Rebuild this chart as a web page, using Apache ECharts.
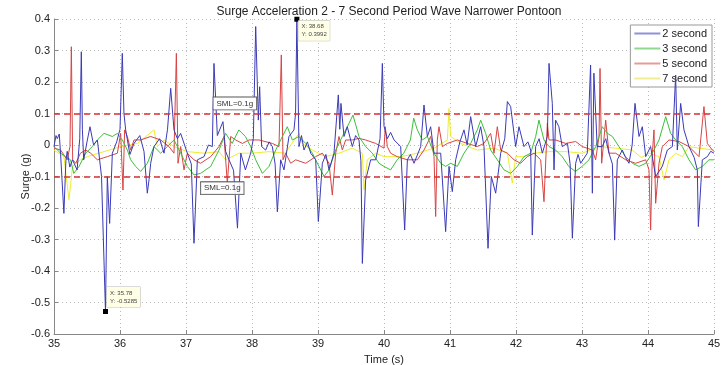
<!DOCTYPE html>
<html>
<head>
<meta charset="utf-8">
<script src="https://cdn.jsdelivr.net/npm/echarts@6/dist/echarts.min.js"></script>
<style>html,body{margin:0;padding:0;background:#fff}#c{width:728px;height:365px}</style>
</head>
<body>
<div id="c"></div>
<script>
var seriesNames = ['2 second', '3 second', '5 second', '7 second'];
var xTicks = [35, 36, 37, 38, 39, 40, 41, 42, 43, 44, 45];
var yTicks = [-0.6, -0.5, -0.4, -0.3, -0.2, -0.1, 0, 0.1, 0.2, 0.3, 0.4];
var smlLimits = [0.1, -0.1];
var tipPoints = [[38.68, 0.3992], [35.78, -0.5285]];

var s2 = [[35.00,-0.005],[35.03,0.03],[35.05,0.02],[35.08,0.035],[35.10,-0.03],[35.15,-0.217],[35.18,-0.05],[35.20,-0.02],[35.24,-0.07],[35.28,-0.047],[35.35,-0.079],[35.39,0.02],[35.414,0.296],[35.43,0.05],[35.45,-0.047],[35.50,0.01],[35.545,0.058],[35.60,0.0],[35.657,0.016],[35.72,-0.1],[35.78,-0.5285],[35.808,-0.1],[35.843,-0.249],[35.884,-0.026],[35.95,0.01],[36.00,0.05],[36.035,0.291],[36.06,0.1],[36.086,0.048],[36.15,-0.03],[36.212,0.005],[36.30,0.03],[36.364,-0.021],[36.414,-0.153],[36.44,-0.11],[36.465,-0.058],[36.515,-0.005],[36.60,0.02],[36.667,-0.026],[36.72,0.05],[36.768,0.180],[36.818,0.048],[36.87,0.02],[36.919,0.037],[37.02,-0.026],[37.08,-0.06],[37.121,-0.312],[37.172,-0.047],[37.273,-0.037],[37.34,0.0],[37.399,-0.005],[37.424,0.259],[37.475,0.03],
[37.56,0.074],[37.60,-0.02],[37.651,-0.047],[37.72,-0.08],[37.78,-0.264],[37.83,-0.026],[37.90,-0.079],[37.98,-0.026],[38.02,0.02],[38.056,0.376],[38.096,0.079],[38.116,0.185],[38.146,-0.005],[38.207,-0.016],[38.26,0.01],[38.308,-0.005],[38.35,-0.06],[38.384,-0.212],[38.434,-0.047],[38.485,-0.079],[38.56,0.027],[38.636,0.048],[38.66,0.1],[38.68,0.3992],[38.712,-0.005],[38.75,0.03],[38.788,-0.016],[38.84,0.01],[38.889,-0.026],[38.965,-0.047],[39.005,-0.243],[39.066,-0.058],[39.12,-0.03],[39.167,-0.079],[39.242,-0.026],[39.308,0.159],[39.33,0.05],[39.348,0.132],[39.394,0.027],[39.444,0.058],[39.52,-0.005],[39.57,0.03],[39.621,0.016],[39.65,-0.05],[39.672,-0.376],[39.722,-0.111],[39.798,-0.047],[39.874,-0.047],[39.94,0.02],[39.975,0.259],
[40.00,0.06],[40.05,0.02],[40.10,0.04],[40.152,0.016],[40.253,-0.005],[40.313,-0.270],[40.354,-0.047],[40.40,-0.03],[40.455,-0.058],[40.556,-0.005],[40.606,0.127],[40.657,0.027],[40.707,0.058],[40.758,-0.026],[40.859,-0.026],[40.934,-0.275],[40.985,-0.068],[41.035,-0.148],[41.086,-0.047],[41.15,0.01],[41.212,0.048],[41.26,0.0],[41.313,0.090],[41.389,-0.005],[41.465,0.058],[41.515,-0.005],[41.576,-0.328],[41.626,-0.1],[41.692,-0.153],[41.768,-0.026],[41.83,0.02],[41.869,0.138],[41.919,0.122],[41.995,-0.005],[42.045,0.058],[42.121,-0.005],[42.18,0.01],[42.222,-0.016],[42.247,-0.286],[42.298,-0.005],[42.35,0.02],[42.399,-0.026],[42.475,0.027],
[42.50,0.259],[42.55,0.132],[42.576,-0.079],[42.60,0.079],[42.65,0.058],[42.70,-0.005],[42.78,0.005],[42.82,-0.06],[42.854,-0.296],[42.904,-0.058],[42.94,-0.03],[42.98,-0.058],[43.08,-0.026],[43.13,0.254],[43.157,-0.153],[43.18,0.228],[43.23,-0.005],[43.308,-0.005],[43.36,0.02],[43.409,-0.026],[43.46,-0.06],[43.495,-0.302],[43.535,-0.047],[43.611,-0.016],[43.66,-0.04],[43.712,-0.058],[43.76,0.0],[43.803,0.132],[43.864,0.027],[43.914,0.058],[43.965,-0.037],[44.04,-0.005],[44.116,-0.1],[44.217,-0.068],[44.293,-0.016],[44.369,-0.005],[44.419,0.222],[44.444,-0.016],[44.495,0.132],[44.545,0.048],[44.621,-0.005],[44.70,-0.04],[44.747,-0.079],[44.763,-0.259],[44.823,-0.047],[44.899,-0.037],[44.95,-0.02],[45.0,-0.026]];

var s3 = [[35.0,-0.005],[35.1,-0.026],[35.25,-0.047],[35.3,-0.09],[35.38,-0.068],[35.48,-0.026],[35.58,-0.005],[35.657,0.016],[35.758,0.037],[35.884,0.027],[35.96,0.037],[36.035,0.016],[36.111,-0.016],[36.162,-0.047],[36.237,-0.068],[36.313,-0.084],[36.414,-0.058],[36.515,-0.005],[36.616,-0.026],[36.717,-0.005],[36.818,0.016],[36.919,-0.026],[37.02,-0.068],[37.121,-0.095],[37.222,-0.09],[37.374,-0.068],[37.5,-0.016],
[37.6,0.037],[37.7,0.005],[37.8,0.048],[37.9,0.027],[37.98,-0.005],[38.056,-0.047],[38.157,-0.09],[38.258,-0.068],[38.359,-0.016],[38.46,0.027],[38.535,0.058],[38.611,0.016],[38.712,0.027],[38.813,0.005],[38.914,-0.026],[39.015,-0.068],[39.091,-0.1],[39.167,-0.079],[39.268,-0.016],[39.369,0.027],[39.47,0.069],[39.53,0.095],[39.621,0.027],[39.722,-0.005],[39.823,-0.026],[39.924,-0.058],[40.0,-0.068],
[40.1,-0.079],[40.2,-0.047],[40.3,-0.026],[40.4,0.016],[40.45,0.085],[40.505,0.048],[40.58,0.016],[40.657,0.027],[40.758,-0.026],[40.859,-0.058],[40.934,-0.068],[41.01,-0.058],[41.111,-0.068],[41.212,-0.026],[41.313,0.005],[41.414,0.048],[41.465,0.079],[41.54,0.037],[41.616,-0.016],[41.717,-0.047],[41.818,-0.079],[41.919,-0.09],[42.02,-0.068],[42.121,-0.037],[42.222,-0.026],[42.298,0.027],[42.348,0.079],[42.424,0.016],[42.5,-0.005],
[42.6,-0.016],[42.7,-0.037],[42.8,-0.068],[42.9,-0.084],[43.0,-0.068],[43.106,-0.047],[43.207,-0.005],[43.308,0.058],[43.384,0.037],[43.46,0.027],[43.56,-0.005],[43.66,-0.037],[43.763,-0.058],[43.864,-0.068],[43.965,-0.058],[44.066,-0.026],[44.167,0.016],[44.268,0.090],[44.343,0.037],[44.419,0.016],[44.52,-0.005],[44.621,-0.047],[44.722,-0.079],[44.823,-0.068],[44.924,-0.047],[45.0,-0.047]];

var s5 = [[35.0,-0.01],[35.1,-0.016],[35.2,-0.047],[35.242,-0.005],[35.263,0.312],[35.283,-0.047],[35.33,-0.058],[35.40,-0.026],[35.48,-0.016],[35.556,-0.026],[35.657,-0.047],[35.808,-0.037],[35.96,-0.026],[36.01,0.037],[36.045,-0.143],[36.07,0.048],[36.111,0.027],[36.162,-0.016],[36.212,0.016],[36.313,0.016],[36.465,0.027],[36.616,0.016],[36.742,-0.005],[36.818,-0.026],[36.854,0.291],[36.879,-0.058],[36.919,-0.005],[36.97,-0.079],[37.02,-0.026],[37.121,-0.047],[37.222,-0.058],[37.374,-0.037],[37.5,-0.005],
[37.576,0.027],[37.626,-0.121],[37.677,0.027],[37.753,0.016],[37.854,0.005],[37.955,0.016],[38.106,0.016],[38.308,0.005],[38.409,-0.005],[38.444,0.286],[38.47,-0.047],[38.51,-0.026],[38.586,-0.058],[38.662,-0.047],[38.813,-0.058],[38.965,-0.037],[39.066,-0.026],[39.167,-0.058],[39.217,-0.159],[39.268,-0.026],[39.318,0.027],[39.369,-0.016],[39.419,0.016],[39.52,0.016],[39.621,0.021],[39.722,0.016],[39.874,0.005],[40.0,-0.01],
[40.02,0.058],[40.05,-0.005],[40.1,-0.026],[40.2,-0.037],[40.354,-0.047],[40.505,-0.047],[40.606,-0.016],[40.707,0.027],[40.758,-0.037],[40.783,-0.227],[40.808,0.016],[40.833,0.058],[40.884,-0.005],[40.96,0.005],[41.111,0.016],[41.263,0.005],[41.414,-0.005],[41.515,0.005],[41.616,0.037],[41.667,-0.026],[41.717,0.058],[41.768,-0.016],[41.869,-0.026],[41.97,-0.047],[42.07,-0.058],[42.172,-0.037],[42.273,-0.026],[42.374,-0.047],[42.424,-0.180],[42.475,0.069],
[42.5,0.016],[42.6,0.016],[42.753,0.005],[42.904,0.011],[43.005,-0.005],[43.157,-0.016],[43.207,-0.047],[43.258,0.027],[43.273,0.243],[43.298,-0.058],[43.359,0.079],[43.409,-0.026],[43.51,-0.026],[43.662,-0.047],[43.813,-0.058],[43.965,-0.047],[44.015,-0.079],[44.04,-0.270],[44.066,-0.026],[44.091,0.048],[44.116,-0.185],[44.167,-0.058],[44.217,-0.005],[44.318,0.016],[44.47,0.011],[44.621,-0.005],[44.773,-0.037],[44.848,0.122],[44.899,0.005],[44.975,-0.016],[45.0,-0.02]];

var s7 = [[35.0,-0.016],[35.15,-0.037],[35.227,-0.174],[35.28,-0.068],[35.40,-0.047],[35.505,-0.037],[35.758,-0.021],[36.01,-0.005],[36.263,0.005],[36.515,0.048],[36.566,-0.005],[36.667,0.016],[36.818,-0.005],[37.02,-0.021],[37.273,-0.026],[37.5,-0.021],
[37.6,-0.047],[37.7,-0.037],[37.8,-0.026],[38.0,-0.026],[38.258,-0.021],[38.5,-0.026],[38.712,0.037],[38.763,0.005],[38.914,-0.016],[39.116,-0.037],[39.318,-0.026],[39.52,-0.010],[39.672,-0.026],[39.697,-0.143],[39.747,-0.047],[39.874,-0.026],[40.0,-0.037],
[40.253,-0.037],[40.505,-0.026],[40.758,-0.010],[40.96,0.016],[40.985,0.116],[41.01,0.027],[41.162,0.005],[41.414,-0.016],[41.667,-0.010],[41.869,-0.026],[41.944,-0.121],[41.995,-0.037],[42.121,-0.037],[42.273,-0.026],[42.5,-0.021],
[42.753,-0.021],[43.005,-0.026],[43.258,-0.005],[43.51,-0.010],[43.763,-0.016],[43.9,-0.04],[44.015,-0.026],[44.167,-0.037],[44.243,-0.111],[44.318,-0.047],[44.419,-0.026],[44.52,-0.037],[44.621,-0.005],[44.773,-0.010],[45.0,-0.016]];

var colors = ['#3a3ab8', '#3cbf3c', '#d84444', '#eded30'];
var legendColors = ['#9090d8', '#90d890', '#e89a9a', '#eeee90'];

var chart = echarts.init(document.getElementById('c'), null, {renderer: 'canvas'});
var FONT = 'Liberation Sans, Arial, sans-serif';

function fmtY(v) {
  var r = Math.round(v * 10) / 10;
  return r === 0 ? '0' : r.toFixed(1);
}

var tipLabel = function (p) {
  return 'X: ' + p.data.coord[0] + '\nY: ' + p.data.coord[1];
};

var seriesList = [s2, s3, s5, s7].map(function (d, i) {
  return {
    name: seriesNames[i],
    type: 'line',
    data: d,
    showSymbol: false,
    symbol: 'none',
    lineStyle: {width: 1, color: colors[i]},
    itemStyle: {color: legendColors[i]},
    z: 4 - i,
    animation: false
  };
});

seriesList[0].markLine = {
  silent: true,
  symbol: 'none',
  label: {show: false},
  lineStyle: {color: '#d83030', type: [6, 4], width: 1.5},
  data: smlLimits.map(function (v) { return {yAxis: v}; }),
  z: 10
};
seriesList[0].markPoint = {
  silent: true,
  data: [
    {coord: tipPoints[0], symbol: 'rect', symbolSize: 5, itemStyle: {color: '#000'},
     label: {show: true, formatter: tipLabel, position: [4, 4], fontSize: 6, lineHeight: 8,
       color: '#444', backgroundColor: '#ffffe6', borderColor: '#bbb', borderWidth: 0.5,
       padding: [2, 3], fontFamily: FONT}},
    {coord: tipPoints[1], symbol: 'rect', symbolSize: 5, itemStyle: {color: '#000'},
     label: {show: true, formatter: tipLabel, position: [4, -22], fontSize: 6, lineHeight: 8,
       color: '#444', backgroundColor: '#ffffe6', borderColor: '#bbb', borderWidth: 0.5,
       padding: [2, 3], fontFamily: FONT}},
    {coord: [37.74, 0.132], symbol: 'rect', symbolSize: 1, itemStyle: {color: 'rgba(0,0,0,0)'},
     label: {show: true, formatter: 'SML=0.1g', position: 'inside', fontSize: 8, color: '#333',
       backgroundColor: '#fff', borderColor: '#555', borderWidth: 0.8, padding: [2, 3], fontFamily: FONT}},
    {coord: [37.55, -0.137], symbol: 'rect', symbolSize: 1, itemStyle: {color: 'rgba(0,0,0,0)'},
     label: {show: true, formatter: 'SML=0.1g', position: 'inside', fontSize: 8, color: '#333',
       backgroundColor: 'rgba(255,255,255,0.85)', borderColor: '#555', borderWidth: 0.8, padding: [2, 3], fontFamily: FONT}}
  ]
};

chart.setOption({
  backgroundColor: '#fff',
  animation: false,
  textStyle: {fontFamily: FONT},
  title: {
    text: 'Surge Acceleration 2 - 7 Second Period Wave Narrower Pontoon',
    left: 384, top: 1, textAlign: 'center',
    textStyle: {fontSize: 12, fontWeight: 'normal', color: '#222', fontFamily: FONT}
  },
  legend: {
    orient: 'vertical',
    right: 16, top: 25,
    data: seriesNames,
    icon: 'rect',
    itemWidth: 26, itemHeight: 2, itemGap: 4,
    backgroundColor: '#fff',
    borderColor: '#999', borderWidth: 1,
    padding: [3, 5, 3, 4],
    textStyle: {fontSize: 11, color: '#222', fontFamily: FONT, padding: [0, 0, 0, -3]}
  },
  grid: {left: 54, right: 14, top: 19, bottom: 31, containLabel: false, outerBoundsMode: 'none'},
  xAxis: {
    type: 'value', min: 35, max: 45, interval: 1,
    name: 'Time (s)', nameLocation: 'middle', nameGap: 20, nameMoveOverlap: false,
    nameTextStyle: {fontSize: 11, color: '#222'},
    axisLine: {show: true, onZero: false, lineStyle: {color: '#888'}},
    axisTick: {show: true, inside: true, length: 4, lineStyle: {color: '#888'}},
    axisLabel: {fontSize: 11, color: '#222', margin: 4,
      formatter: function (v) { return xTicks.indexOf(v) >= 0 ? String(v) : ''; }},
    splitLine: {show: true, lineStyle: {color: '#bbb', type: [1, 3]}}
  },
  yAxis: {
    type: 'value', min: -0.6, max: 0.4, interval: 0.1,
    name: 'Surge (g)', nameLocation: 'middle', nameGap: 23, nameMoveOverlap: false,
    nameTextStyle: {fontSize: 11, color: '#222'},
    axisLine: {show: true, onZero: false, lineStyle: {color: '#888'}},
    axisTick: {show: true, inside: true, length: 4, lineStyle: {color: '#888'}},
    axisLabel: {fontSize: 11, color: '#222', margin: 4, formatter: fmtY},
    splitLine: {show: true, lineStyle: {color: '#bbb', type: [1, 3]}}
  },
  series: seriesList
});
</script>
</body>
</html>
